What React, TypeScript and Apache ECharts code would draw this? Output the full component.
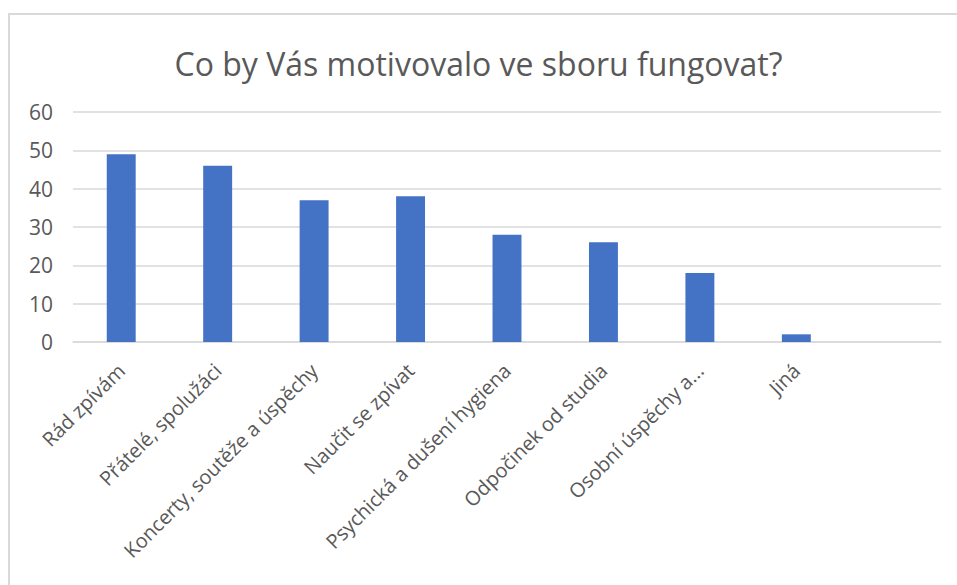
import React, { useEffect, useRef } from "react";
import * as echarts from "echarts";

const TITLE = "Co by Vás motivovalo ve sboru fungovat?";
const categories = [
  "Rád zpívám",
  "Přátelé, spolužáci",
  "Koncerty, soutěže a úspěchy",
  "Naučit se zpívat",
  "Psychická a dušení hygiena",
  "Odpočinek od studia",
  "Osobní úspěchy a...",
  "Jiná",
  "",
];
const values: (number | null)[] = [49, 46, 37, 38, 28, 26, 18, 2, null];
const yTicks = { min: 0, max: 60, interval: 10 };

const FONT = "'Open Sans', 'Noto Sans', sans-serif";
const TEXT = "#595959";
const GRID = "#d9d9d9";

export default function App() {
  const ref = useRef<HTMLDivElement>(null);
  useEffect(() => {
    document.body.style.margin = "0";
    const chart = echarts.init(ref.current!, null, { renderer: "svg" });
    chart.setOption({
      animation: false,
      backgroundColor: "#ffffff",
      title: {
        text: TITLE,
        left: "center",
        top: 42,
        textStyle: { color: TEXT, fontFamily: FONT, fontSize: 32, fontWeight: "normal" },
      },
      graphic: [
        {
          type: "rect",
          shape: { x: 9, y: 14, width: 1200, height: 1200 },
          style: { fill: "none", stroke: GRID, lineWidth: 2 },
          silent: true,
        },
      ],
      grid: { left: 73, right: 16, top: 112, bottom: 243, containLabel: false },
      xAxis: {
        type: "category",
        data: categories,
        axisLine: { show: true, lineStyle: { color: GRID, width: 1.5 } },
        axisTick: { show: false },
        axisLabel: {
          rotate: 45,
          interval: 0,
          margin: 25,
          color: TEXT,
          fontFamily: FONT,
          fontSize: 20,
        },
      },
      yAxis: {
        type: "value",
        min: yTicks.min,
        max: yTicks.max,
        interval: yTicks.interval,
        axisLine: { show: false },
        axisTick: { show: false },
        splitLine: { lineStyle: { color: GRID, width: 1.5 } },
        axisLabel: { color: TEXT, fontFamily: FONT, fontSize: 21, margin: 20 },
      },
      series: [
        {
          type: "bar",
          data: values,
          barWidth: "30%",
          itemStyle: { color: "#4472C4" },
        },
      ],
    });
    return () => chart.dispose();
  }, []);
  return <div ref={ref} style={{ width: 957, height: 585 }} />;
}
